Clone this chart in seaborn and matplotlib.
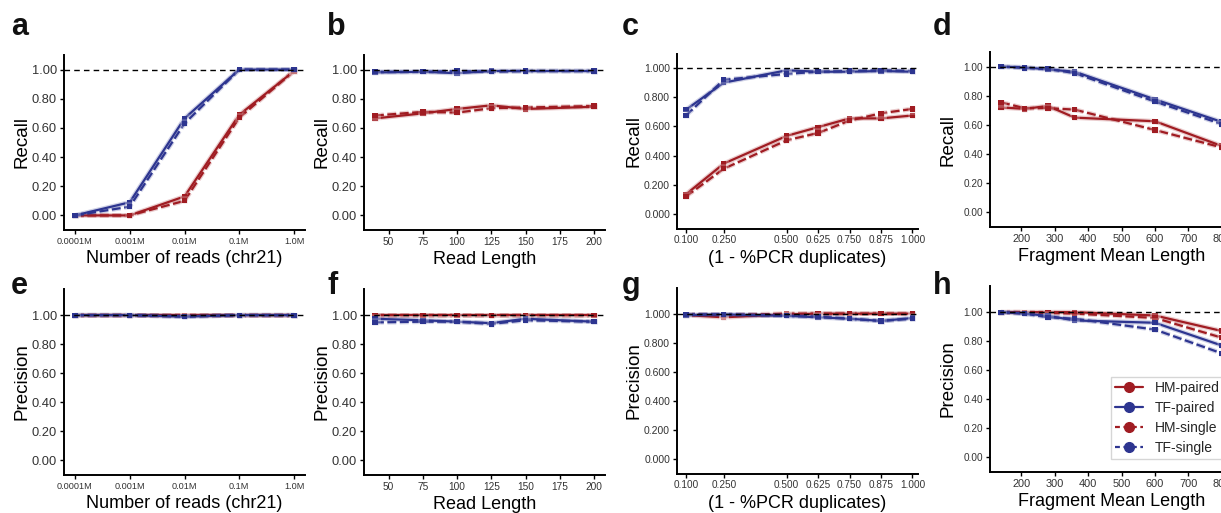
import numpy as np
import pandas as pd
import matplotlib
matplotlib.use("Agg")
import matplotlib.pyplot as plt
import matplotlib.patheffects as pe
from matplotlib.lines import Line2D
import seaborn as sns

sns.set_theme(style="ticks")
plt.rcParams['font.family'] = ['Liberation Sans', 'DejaVu Sans']

RED = "#A01C22"
BLUE = "#2D3590"

series = ["HM-paired", "TF-paired", "HM-single", "TF-single"]

# ---- x values ----
reads_x = [0.0001, 0.001, 0.01, 0.1, 1.0]
reads_labels = ["0.0001M", "0.001M", "0.01M", "0.1M", "1.0M"]
readlen_x = [40, 75, 100, 125, 150, 200]
readlen_ticks = [50, 75, 100, 125, 150, 175, 200]
pcr_x = [0.100, 0.250, 0.500, 0.625, 0.750, 0.875, 1.000]
frag_x = [140, 210, 280, 360, 600, 800]
frag_ticks = [200, 300, 400, 500, 600, 700, 800]

# ---- Recall ----
recall_reads = {
    "HM-paired": [0.00, 0.00, 0.13, 0.69, 0.99],
    "TF-paired": [0.00, 0.09, 0.665, 1.00, 1.00],
    "HM-single": [0.00, 0.00, 0.10, 0.67, 0.99],
    "TF-single": [0.00, 0.06, 0.63, 1.00, 1.00],
}
recall_readlen = {
    "HM-paired": [0.665, 0.70, 0.73, 0.755, 0.73, 0.745],
    "TF-paired": [0.98, 0.985, 0.975, 0.99, 0.99, 0.99],
    "HM-single": [0.685, 0.71, 0.705, 0.735, 0.74, 0.75],
    "TF-single": [0.985, 0.985, 0.99, 0.985, 0.99, 0.99],
}
recall_pcr = {
    "HM-paired": [0.135, 0.345, 0.535, 0.595, 0.655, 0.655, 0.675],
    "TF-paired": [0.715, 0.90, 0.985, 0.975, 0.975, 0.98, 0.975],
    "HM-single": [0.12, 0.31, 0.505, 0.555, 0.64, 0.69, 0.72],
    "TF-single": [0.675, 0.92, 0.96, 0.975, 0.98, 0.985, 0.98],
}
recall_frag = {
    "HM-paired": [0.72, 0.71, 0.73, 0.65, 0.625, 0.455],
    "TF-paired": [1.00, 0.995, 0.98, 0.965, 0.775, 0.62],
    "HM-single": [0.755, 0.715, 0.715, 0.705, 0.565, 0.445],
    "TF-single": [1.00, 0.99, 0.985, 0.955, 0.76, 0.605],
}

# ---- Precision ----
prec_reads = {
    "HM-paired": [1.00, 1.00, 1.00, 1.00, 1.00],
    "TF-paired": [1.00, 1.00, 0.99, 1.00, 1.00],
    "HM-single": [1.00, 1.00, 1.00, 1.00, 1.00],
    "TF-single": [1.00, 1.00, 0.99, 1.00, 1.00],
}
prec_readlen = {
    "HM-paired": [1.00, 1.00, 1.00, 1.00, 1.00, 1.00],
    "TF-paired": [0.975, 0.965, 0.955, 0.945, 0.975, 0.955],
    "HM-single": [0.998, 0.998, 0.998, 0.998, 0.998, 0.998],
    "TF-single": [0.95, 0.955, 0.955, 0.94, 0.965, 0.955],
}
prec_pcr = {
    "HM-paired": [0.99, 0.975, 0.995, 1.00, 1.00, 1.00, 1.00],
    "TF-paired": [0.99, 0.995, 0.985, 0.975, 0.965, 0.95, 0.97],
    "HM-single": [0.995, 0.99, 1.00, 1.00, 1.00, 1.00, 1.00],
    "TF-single": [0.995, 0.995, 0.985, 0.98, 0.965, 0.95, 0.965],
}
prec_frag = {
    "HM-paired": [1.00, 1.00, 1.00, 1.00, 0.977, 0.87],
    "TF-paired": [1.00, 0.99, 0.975, 0.943, 0.927, 0.77],
    "HM-single": [1.00, 1.00, 0.995, 0.99, 0.96, 0.824],
    "TF-single": [1.00, 0.99, 0.965, 0.955, 0.88, 0.716],
}


def long_df(xs, d):
    rows = []
    for s in series:
        mark, layout = s.split("-")
        for x, y in zip(xs, d[s]):
            rows.append({"x": x, "y": y, "mark": mark, "layout": layout})
    return pd.DataFrame(rows)


W, H = 1221, 513
fig = plt.figure(figsize=(W / 100, H / 100), dpi=100)

col_left = [64, 364, 677, 990]
col_width = [241, 241, 241, 243]
col_shift = [0, 0, 1.5, 3]
top_row = (55, 230)
bot_row = (289, 475)


def make_ax(col, row):
    t, b = row
    t -= col_shift[col]
    b -= col_shift[col]
    return fig.add_axes([col_left[col] / W, 1 - b / H, col_width[col] / W, (b - t) / H])


panels = [
    ("a", 0, top_row, reads_x, recall_reads, "Recall", "Number of reads (chr21)", "reads"),
    ("b", 1, top_row, readlen_x, recall_readlen, "Recall", "Read Length", "readlen"),
    ("c", 2, top_row, pcr_x, recall_pcr, "Recall", "(1 - %PCR duplicates)", "pcr"),
    ("d", 3, top_row, frag_x, recall_frag, "Recall", "Fragment Mean Length", "frag"),
    ("e", 0, bot_row, reads_x, prec_reads, "Precision", "Number of reads (chr21)", "reads"),
    ("f", 1, bot_row, readlen_x, prec_readlen, "Precision", "Read Length", "readlen"),
    ("g", 2, bot_row, pcr_x, prec_pcr, "Precision", "(1 - %PCR duplicates)", "pcr"),
    ("h", 3, bot_row, frag_x, prec_frag, "Precision", "Fragment Mean Length", "frag"),
]

letter_x = [11, 327, 622, 933]
# right edge (pixels) of the y-label text box for each column
label_right_px = [31.0, 331.0, 643.0, 957.0]

for letter, col, row, xs, d, ylab, xlab, kind in panels:
    ax = make_ax(col, row)
    df = long_df(xs, d)
    sns.lineplot(data=df, x="x", y="y", hue="mark", style="layout",
                 hue_order=["HM", "TF"], style_order=["paired", "single"],
                 palette={"HM": RED, "TF": BLUE},
                 dashes={"paired": "", "single": (4, 1.6)},
                 markers={"paired": "s", "single": "s"},
                 markersize=3.8, markeredgewidth=0, linewidth=1.6,
                 sort=False, errorbar=None, legend=False, ax=ax)
    for ln in ax.lines:
        ln.set_path_effects([pe.Stroke(linewidth=3.4, alpha=0.22), pe.Normal()])
    ax.axhline(1.0, color="black", lw=1.0, ls=(0, (4, 3)), zorder=5)

    if kind == "reads":
        ax.set_xscale("log")
        ax.set_xlim(10 ** -4.2, 10 ** 0.2)
        ax.set_xticks(reads_x)
        ax.set_xticklabels(reads_labels)
        ax.xaxis.set_minor_locator(matplotlib.ticker.NullLocator())
        xfs = 6.6
    elif kind == "readlen":
        ax.set_xlim(32, 208)
        ax.set_xticks(readlen_ticks)
        ax.set_xticklabels([str(v) for v in readlen_ticks])
        xfs = 7.3
    elif kind == "pcr":
        ax.set_xlim(0.064, 1.022)
        ax.set_xticks(pcr_x)
        ax.set_xticklabels(["%.3f" % v for v in pcr_x])
        xfs = 7.2
    else:
        ax.set_xlim(107, 833)
        ax.set_xticks(frag_ticks)
        ax.set_xticklabels([str(v) for v in frag_ticks])
        xfs = 7.9

    yt = [0, 0.2, 0.4, 0.6, 0.8, 1.0]
    ax.set_yticks(yt)
    if kind == "pcr":
        ax.set_yticklabels(["%.3f" % v for v in yt])
        yfs = 7.5
    elif kind == "frag":
        ax.set_yticklabels(["%.2f" % v for v in yt])
        yfs = 7.2
    else:
        ax.set_yticklabels(["%.2f" % v for v in yt])
        yfs = 9.3
    if row == top_row:
        ax.set_ylim(-0.1, 1.1)
    else:
        ax.set_ylim(-0.1, 1.18)

    ax.tick_params(axis="x", labelsize=xfs, length=3, width=1.0, pad=2, colors="black", labelcolor="#333333")
    ax.tick_params(axis="y", labelsize=yfs, length=3, width=1.0, pad=2, colors="black", labelcolor="#333333")
    for sp in ["top", "right"]:
        ax.spines[sp].set_visible(False)
    for sp in ["left", "bottom"]:
        ax.spines[sp].set_linewidth(1.4)
        ax.spines[sp].set_color("black")

    ax.set_xlabel(xlab, fontsize=13, labelpad=3, color="black")
    ax.set_ylabel(ylab, fontsize=13.5, color="black")
    ax.yaxis.set_label_coords((label_right_px[col] - col_left[col]) / col_width[col], 0.5)

    base = 35 if row == top_row else 294
    fig.text(letter_x[col] / W, 1 - base / H, letter, fontsize=22, fontweight="bold",
             va="baseline", ha="left", color="#111111")

    if letter == "h":
        handles = [
            Line2D([], [], color=RED, lw=1.6, marker="o", markersize=7),
            Line2D([], [], color=BLUE, lw=1.6, marker="o", markersize=7),
            Line2D([], [], color=RED, lw=1.6, ls=(0, (2.2, 1.6)), marker="o", markersize=7),
            Line2D([], [], color=BLUE, lw=1.6, ls=(0, (2.2, 1.6)), marker="o", markersize=7),
        ]
        leg = ax.legend(handles, series, loc="upper left", bbox_to_anchor=(0.496, 0.512),
                        borderaxespad=0, fontsize=10, frameon=True, fancybox=False,
                        handlelength=2.0, handletextpad=0.85, labelspacing=0.42,
                        borderpad=0.32)
        leg.get_frame().set_edgecolor("#cccccc")
        leg.get_frame().set_linewidth(1.0)

fig.savefig("out.png", dpi=100)
